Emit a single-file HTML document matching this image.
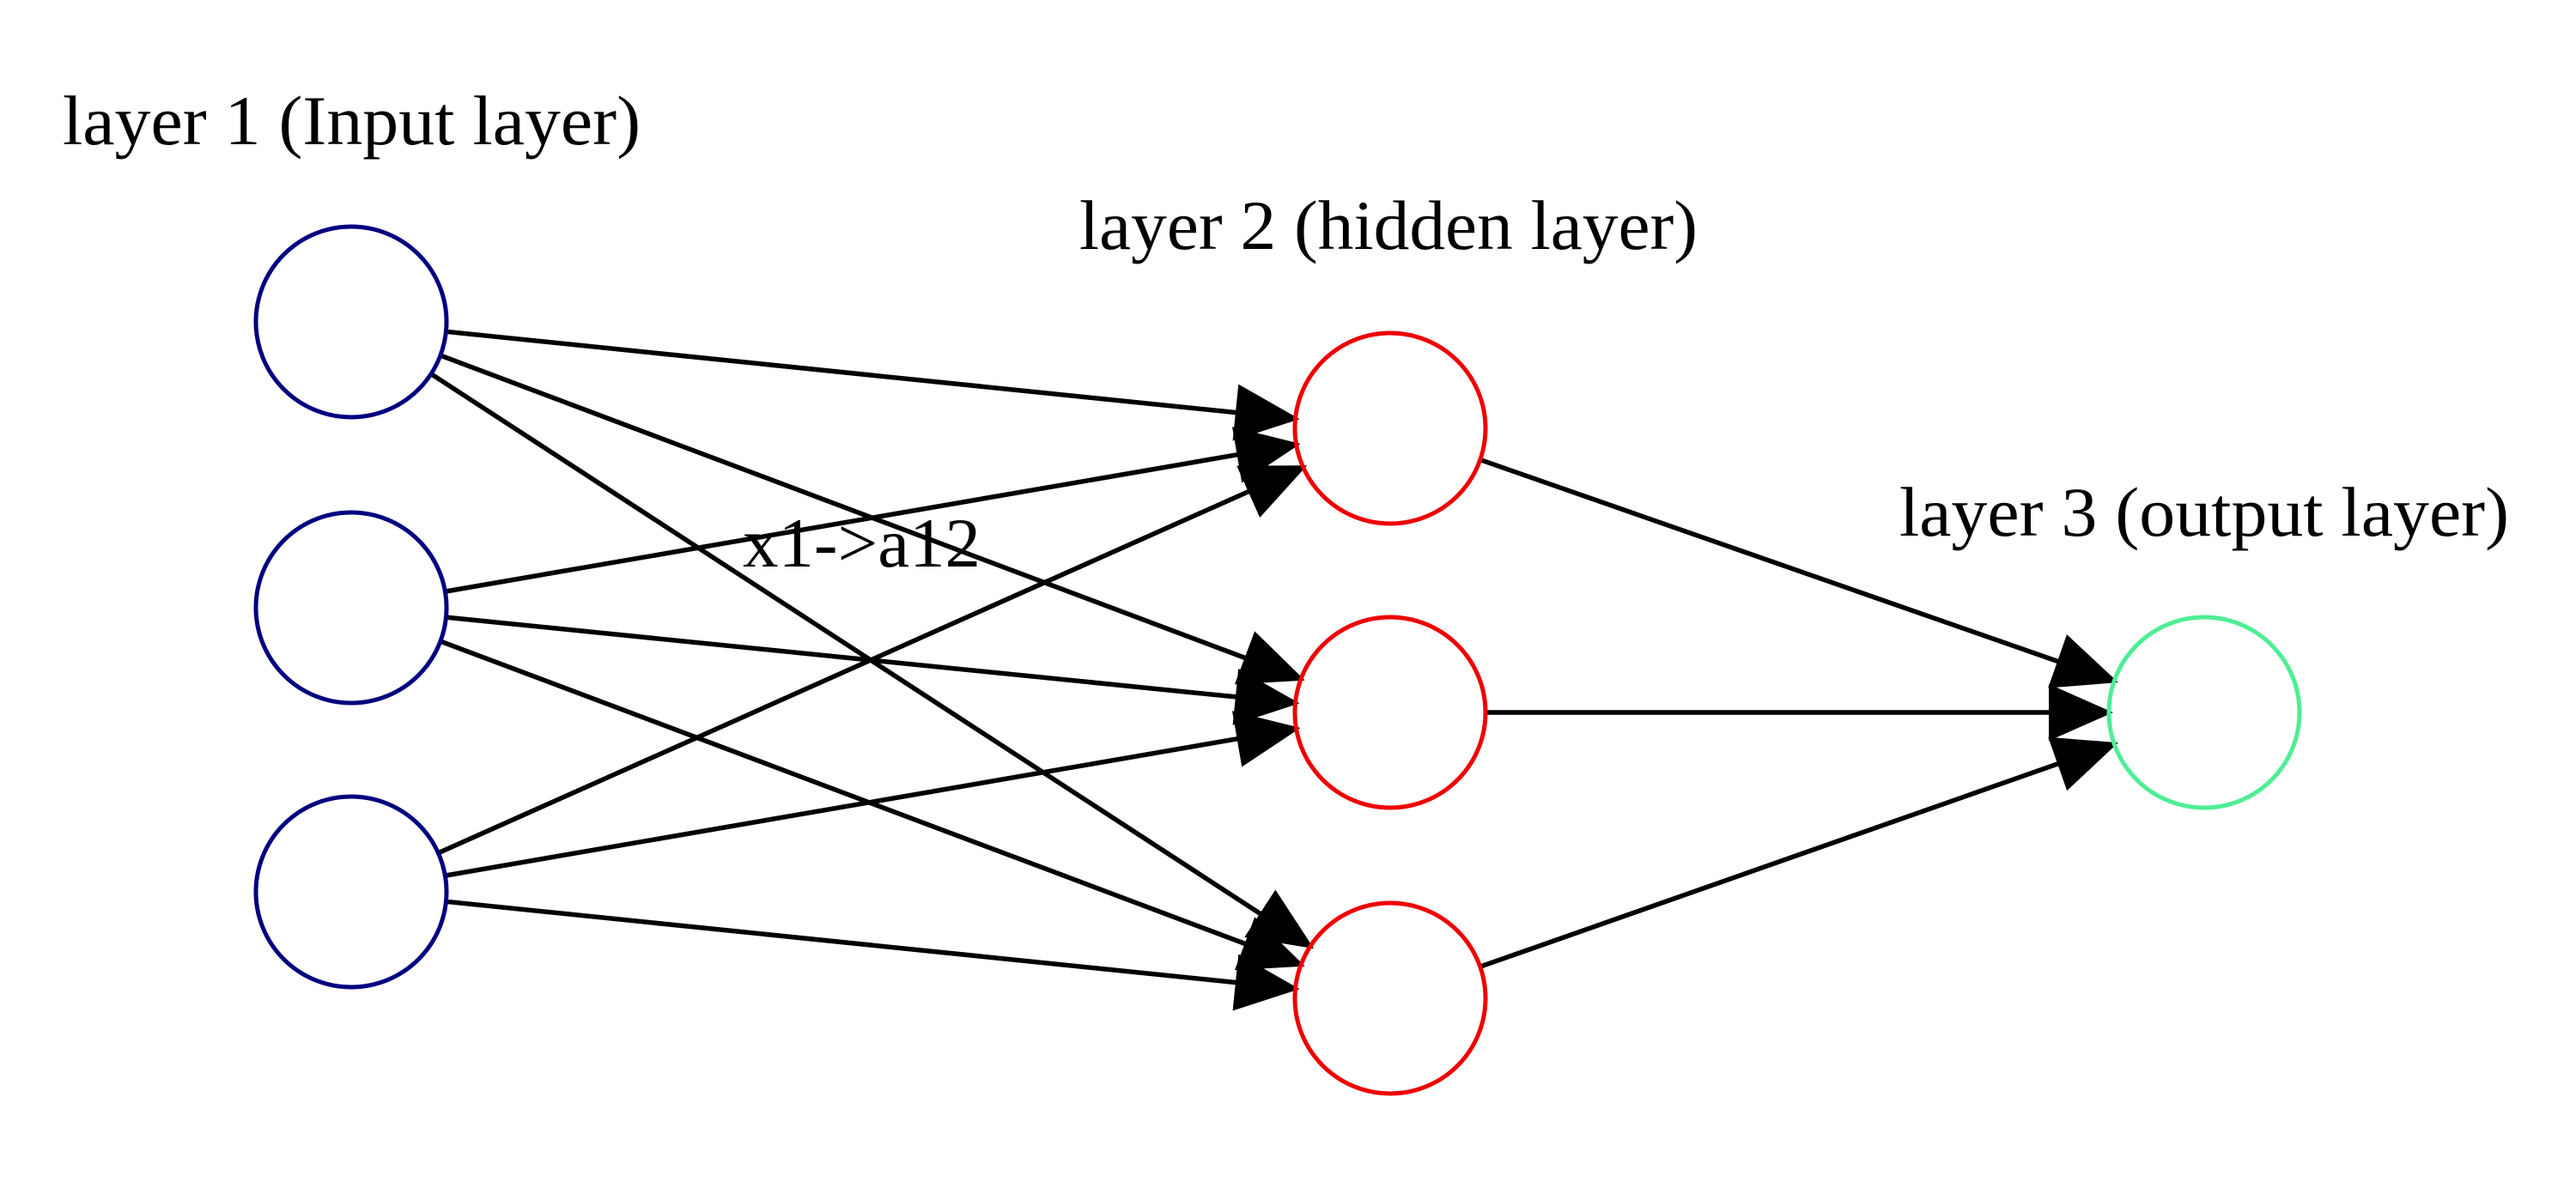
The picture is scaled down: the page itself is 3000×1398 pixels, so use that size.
<!DOCTYPE html>
<html><head><meta charset="utf-8"><style>
html,body{margin:0;padding:0;background:#fff;}
svg{display:block;}
text{font-family:"Liberation Serif","Times New Roman",serif;font-size:82px;fill:#000;}
</style></head><body>
<svg id="g" width="3000" height="1398" viewBox="0 0 3000 1398" xmlns="http://www.w3.org/2000/svg">
<rect width="3000" height="1398" fill="#fff"/>
<text x="73" y="168" textLength="673" lengthAdjust="spacingAndGlyphs">layer 1 (Input layer)</text>
<text x="1257" y="290" textLength="720" lengthAdjust="spacingAndGlyphs">layer 2 (hidden layer)</text>
<text x="2212" y="624" textLength="710" lengthAdjust="spacingAndGlyphs">layer 3 (output layer)</text>
<text x="865" y="660" textLength="277" lengthAdjust="spacingAndGlyphs">x1-&gt;a12</text>
<g id="edges"></g>
<g id="nodes"></g>
</svg>
<script>
const inputY=[375,708,1039];
const hiddenY=[499,830,1163];
const outputY=[830];
const layerX=[409,1619,2567];
const R=111;
const colors=["#000080","#ee0000","#4eee94"];
const NS="http://www.w3.org/2000/svg";
const layers=[inputY,hiddenY,outputY];
const eg=document.getElementById('edges');
const ng=document.getElementById('nodes');
function edge(x1,y1,x2,y2,name){
  const dx=x2-x1,dy=y2-y1,L=Math.hypot(dx,dy),ux=dx/L,uy=dy/L;
  const sx=x1+ux*R,sy=y1+uy*R,tx=x2-ux*R,ty=y2-uy*R;
  const AL=68,AW=30;
  const bx=tx-ux*AL,by=ty-uy*AL;
  const l=document.createElementNS(NS,'line');
  l.setAttribute('x1',sx);l.setAttribute('y1',sy);l.setAttribute('x2',bx);l.setAttribute('y2',by);
  l.setAttribute('stroke','#000');l.setAttribute('stroke-width','5.5');
  
  
  eg.appendChild(l);
  const p=document.createElementNS(NS,'polygon');
  p.setAttribute('points',`${tx},${ty} ${bx-uy*AW},${by+ux*AW} ${bx+uy*AW},${by-ux*AW}`);
  p.setAttribute('fill','#000');p.setAttribute('stroke','#000');p.setAttribute('stroke-width','4');
  
  
  eg.appendChild(p);
}
for(let k=0;k<2;k++){
  layers[k].forEach((ya,i)=>layers[k+1].forEach((yb,j)=>edge(layerX[k],ya,layerX[k+1],yb,`edge-l${k+1}n${i+1}-l${k+2}n${j+1}`)));
}
layers.forEach((ys,k)=>ys.forEach((y,i)=>{
  const c=document.createElementNS(NS,'circle');
  c.setAttribute('cx',layerX[k]);c.setAttribute('cy',y);c.setAttribute('r',R);
  c.setAttribute('fill','none');c.setAttribute('stroke',colors[k]);c.setAttribute('stroke-width','5');
  
  
  ng.appendChild(c);
}));
</script>
</body></html>
